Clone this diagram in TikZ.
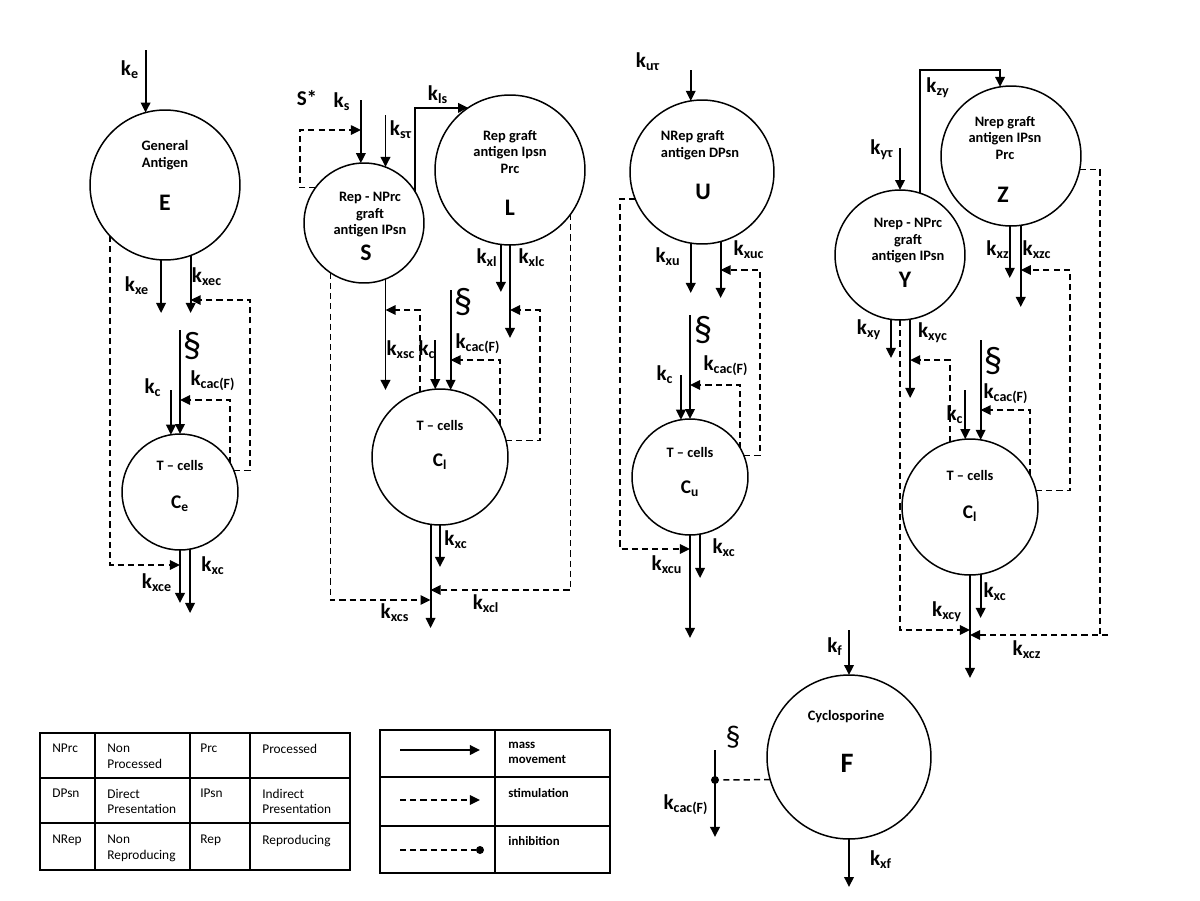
\documentclass[tikz,border=0pt]{standalone}
\usepackage{fontspec}
\setmainfont{Carlito}
\usetikzlibrary{arrows.meta}
\newcommand\kay[1]{k\textsubscript{#1}}
\begin{document}
\begin{tikzpicture}[x=0.02cm,y=-0.02cm,
 mass/.style={line width=1.1pt,-{Triangle[length=5.7pt,width=5.4pt]}},
 stim/.style={line width=0.85pt,dash pattern=on 3.5pt off 2.3pt,-{Triangle[length=5.7pt,width=5.4pt]}},
 dline/.style={line width=0.85pt,dash pattern=on 3.5pt off 2.3pt},
 circ/.style={circle,draw,line width=0.85pt,inner sep=0pt,outer sep=0pt,minimum size=#1},
 lab/.style={font=\fontsize{12}{14}\selectfont\bfseries,inner sep=0pt},
 ctext/.style={font=\fontsize{8.2}{9.4}\selectfont\bfseries,align=center,inner sep=0pt},
 cletter/.style={font=\fontsize{13.5}{15}\selectfont\bfseries,inner sep=0pt},
 csub/.style={font=\fontsize{11}{13}\selectfont\bfseries,inner sep=0pt},
 sect/.style={font=\fontsize{21}{21}\selectfont,inner sep=0pt},
 ttext/.style={font=\fontsize{7.6}{8.6}\selectfont,align=left,anchor=north west,inner sep=0pt},
 legtext/.style={font=\fontsize{7.3}{8.6}\selectfont\bfseries,align=left,anchor=north west,inner sep=0pt},
 gridline/.style={line width=1.1pt},
 blackdot/.style={circle,fill,inner sep=0pt,minimum size=0.16cm}]
\useasboundingbox (0,0) rectangle (1200,900);

% ===== E group =====
\node[circ=3cm] (E) at (165,185) {};
\node[ctext] (Et) at (165,155) {General\\Antigen};
\node[cletter] (El) at (165,203) {E};
\node[circ=2.32cm] (Ce) at (180,492) {};
\node[ctext] (Cet) at (180,465) {T – cells};
\node[csub] (Cel) at (180,504) {C\textsubscript{e}};
\draw[mass] (E.105.5 |- 0,50) -- (E.105.5);
\draw[mass] (E.-93.8) -- (E.-93.8 |- 0,313);
\draw[mass] (E.-70.5) -- (E.-70.5 |- 0,313);
\draw[stim] (Ce.22.3) -| (250,300) -- (E.-70.5 |- 0,300);
\draw[mass] (Ce.north |- 0,330) -- (Ce.north);
\draw[mass] (Ce.99.9 |- 0,390) -- (Ce.99.9);
\draw[stim] (Ce.30.5) |- (Ce.north |- 0,400);
\draw[stim] (E.-137.2) |- (Ce.south |- 0,565);
\draw[mass] (Ce.south) -- (Ce.south |- 0,603);
\draw[mass] (Ce.-80.1) -- (Ce.-80.1 |- 0,613);
\node[lab] (lE1) at (130,70) {\kay{e}};
\node[lab] (lE2) at (137,286) {\kay{xe}};
\node[lab] (lE3) at (207,277) {\kay{xec}};
\node[sect] (lE4) at (192,346) {§};
\node[lab] (lE5) at (213,381) {\kay{cac(F)}};
\node[lab] (lE6) at (153,388) {\kay{c}};
\node[lab] (lE7) at (157,583) {\kay{xce}};
\node[lab] (lE8) at (213,566) {\kay{xc}};

% ===== S / L group =====
\node[circ=2.4cm] (S) at (364,223) {};
\node[ctext] (St) at (370,215) {Rep - NPrc\\graft\\antigen IPsn};
\node[cletter] (Sl) at (366,253) {S};
\node[circ=3cm] (L) at (510,170) {};
\node[ctext] (Lt) at (510,152) {Rep graft\\antigen Ipsn\\Prc};
\node[cletter] (Ll) at (510,208) {L};
\node[circ=2.72cm] (Cl) at (440,457) {};
\node[ctext] (Clt) at (440,425) {T – cells};
\node[csub] (Cll) at (440,462) {C\textsubscript{l}};
\draw[mass] (S.93.8 |- 0,100) -- (S.93.8);
\draw[mass] (S.69.5 |- 0,115) -- (S.69.5);
\draw[stim] (S.144.3) -| (300,130) -- (S.93.8 |- 0,130);
\draw[mass] (S.31.8) |- (L.124.2);
\draw[mass] (L.-97.7) -- (L.-97.7 |- 0,292);
\draw[mass] (L.south) -- (L.south |- 0,338);
\draw[stim] (Cl.14.5) -| (540,310) -- (L.south |- 0,310);
\draw[mass] (S.-69.5) -- (S.-69.5 |- 0,390);
\draw[stim] (Cl.107.1) |- (S.-69.5 |- 0,310);
\draw[mass] (Cl.94.2 |- 0,340) -- (Cl.94.2);
\draw[mass] (Cl.81.5 |- 0,290) -- (Cl.81.5);
\draw[stim] (Cl.28.1) |- (Cl.81.5 |- 0,360);
\draw[mass] (Cl.-98.5) -- (Cl.-98.5 |- 0,628);
\draw[mass] (Cl.south) -- (Cl.south |- 0,567);
\draw[stim] (S.-124.5) |- (Cl.-98.5 |- 0,600);
\draw[stim] (L.-36.9) |- (Cl.-98.5 |- 0,590);
\node[lab] (lS1) at (307,98) {S*};
\node[lab] (lS2) at (342,102) {\kay{s}};
\node[lab] (lS3) at (401,130) {\kay{sτ}};
\node[lab] (lS4) at (438,95) {\kay{ls}};
\node[lab] (lS5) at (487,258) {\kay{xl}};
\node[lab] (lS6) at (532,258) {\kay{xlc}};
\node[sect] (lS7) at (463,302) {§};
\node[lab] (lS8) at (401,350) {\kay{xsc}};
\node[lab] (lS9) at (427,350) {\kay{c}};
\node[lab] (lS10) at (478,344) {\kay{cac(F)}};
\node[lab] (lS11) at (456,540) {\kay{xc}};
\node[lab] (lS12) at (395,613) {\kay{xcs}};
\node[lab] (lS13) at (486,604) {\kay{xcl}};

% ===== U group =====
\node[circ=2.88cm] (U) at (702,172) {};
\node[ctext,align=left] (Ut) at (700,145) {NRep graft\\antigen DPsn};
\node[cletter] (Ul) at (703,192) {U};
\node[circ=2.32cm] (Cu) at (690,477) {};
\node[ctext] (Cut) at (690,452) {T – cells};
\node[csub] (Cul) at (690,489) {C\textsubscript{u}};
\draw[mass] (U.99.6 |- 0,70) -- (U.99.6);
\draw[stim] (U.202.9) -| (620,549) -- (Cu.south |- 0,549);
\draw[mass] (U.-99.6) -- (U.-99.6 |- 0,293);
\draw[mass] (U.-75.5) -- (U.-75.5 |- 0,298);
\draw[stim] (Cu.22.3) -| (760,270) -- (U.-75.5 |- 0,270);
\draw[mass] (Cu.north |- 0,315) -- (Cu.north);
\draw[mass] (Cu.99.9 |- 0,375) -- (Cu.99.9);
\draw[stim] (Cu.30.5) |- (Cu.north |- 0,385);
\draw[mass] (Cu.south) -- (Cu.south |- 0,638);
\draw[mass] (Cu.-80.1) -- (Cu.-80.1 |- 0,578);
\node[lab] (lU1) at (648,62) {\kay{uτ}};
\node[lab] (lU2) at (668,257) {\kay{xu}};
\node[lab] (lU3) at (749,250) {\kay{xuc}};
\node[sect] (lU4) at (703,330) {§};
\node[lab] (lU5) at (726,366) {\kay{cac(F)}};
\node[lab] (lU6) at (665,375) {\kay{c}};
\node[lab] (lU7) at (667,565) {\kay{xcu}};
\node[lab] (lU8) at (724,548) {\kay{xc}};

% ===== Y / Z group =====
\node[circ=2.6cm] (Y) at (900,255) {};
\node[ctext] (Yt) at (908,241) {Nrep - NPrc\\graft\\antigen IPsn};
\node[cletter] (Yl) at (905,280) {Y};
\node[circ=2.8cm] (Z) at (1011,156) {};
\node[ctext] (Zt) at (1005,138) {Nrep graft\\antigen IPsn\\Prc};
\node[cletter] (Zl) at (1003,195) {Z};
\node[circ=2.72cm] (Cy) at (970,507) {};
\node[ctext] (Cyt) at (970,475) {T – cells};
\node[csub] (Cyl) at (970,514) {C\textsubscript{l}};
\draw[mass] (Y.north |- 0,148) -- (Y.north);
\draw[mass] (Y.72.1) |- (Z.99 |- 0,70) -- (Z.99);
\draw[mass] (Z.-91) -- (Z.-91 |- 0,278);
\draw[mass] (Z.-82.6) -- (Z.-82.6 |- 0,307);
\draw[stim] (Cy.14.5) -| (1070,270) -- (Z.-82.6 |- 0,270);
\draw[dline] (Z.-11.5) -| (1100,635);
\draw[stim] (1108,635) -- (Cy.south |- 0,635);
\draw[mass] (Y.-98.8) -- (Y.-98.8 |- 0,358);
\draw[stim] (Y.south) |- (Cy.south |- 0,630);
\draw[mass] (Y.-81.2) -- (Y.-81.2 |- 0,398);
\draw[stim] (Cy.107.1) |- (Y.-81.2 |- 0,360);
\draw[mass] (Cy.94.2 |- 0,390) -- (Cy.94.2);
\draw[mass] (Cy.81.5 |- 0,340) -- (Cy.81.5);
\draw[stim] (Cy.28.1) |- (Cy.81.5 |- 0,410);
\draw[mass] (Cy.south) -- (Cy.south |- 0,678);
\draw[mass] (Cy.-81.5) -- (Cy.-81.5 |- 0,618);
\node[lab] (lY1) at (938,88) {\kay{zy}};
\node[lab] (lY2) at (882,150) {\kay{yτ}};
\node[lab] (lY3) at (998,250) {\kay{xz}};
\node[lab] (lY4) at (1037,250) {\kay{xzc}};
\node[lab] (lY5) at (869,330) {\kay{xy}};
\node[lab] (lY6) at (933,333) {\kay{xyc}};
\node[sect] (lY7) at (993,361) {§};
\node[lab] (lY8) at (1006,394) {\kay{cac(F)}};
\node[lab] (lY9) at (955,415) {\kay{c}};
\node[lab] (lY10) at (995,592) {\kay{xc}};
\node[lab] (lY11) at (947,612) {\kay{xcy}};
\node[lab] (lY12) at (1027,650) {\kay{xcz}};

% ===== F group =====
\node[circ=3.28cm] (F) at (849,757) {};
\node[ctext] (Ft) at (846,717) {Cyclosporine};
\node[font=\fontsize{16}{18}\selectfont\bfseries,inner sep=0pt] (Fl) at (847,763) {F};
\draw[mass] (F.north |- 0,630) -- (F.north);
\draw[mass] (F.south) -- (F.south |- 0,887);
\coordinate (inhTop) at (715,750);
\coordinate (inhBot) at (715,837);
\node[blackdot] (inh) at (715,780) {};
\draw[mass] (inhTop) -- (inhBot);
\draw[dline] (F.196.3) -- (inh);
\node[lab] (lF1) at (835,647) {\kay{f}};
\node[lab] (lF2) at (881,860) {\kay{xf}};
\node[font=\fontsize{17}{17}\selectfont,inner sep=0pt] (lF3) at (733,737) {§};
\node[lab] (lF4) at (686,805) {\kay{cac(F)}};

% ===== Table of abbreviations =====
\draw[gridline] (40,733) rectangle (350,870);
\draw[gridline] (95,733) -- (95,870);
\draw[gridline] (190,733) -- (190,870);
\draw[gridline] (250,733) -- (250,870);
\draw[gridline] (40,778) -- (350,778);
\draw[gridline] (40,823) -- (350,823);
\node[ttext] (t11) at (52,744) {NPrc};
\node[ttext] (t12) at (107,744) {Non\\Processed};
\node[ttext] (t13) at (200,744) {Prc};
\node[ttext] (t14) at (262,744) {Processed};
\node[ttext] (t21) at (52,789) {DPsn};
\node[ttext] (t22) at (107,789) {Direct\\Presentation};
\node[ttext] (t23) at (200,789) {IPsn};
\node[ttext] (t24) at (262,789) {Indirect\\Presentation};
\node[ttext] (t31) at (52,835) {NRep};
\node[ttext] (t32) at (107,835) {Non\\Reproducing};
\node[ttext] (t33) at (200,835) {Rep};
\node[ttext] (t34) at (262,835) {Reproducing};

% ===== Legend =====
\draw[gridline] (380,730) rectangle (610,873);
\draw[gridline] (495,730) -- (495,873);
\draw[gridline] (380,777) -- (610,777);
\draw[gridline] (380,826) -- (610,826);
\coordinate (g1a) at (400,750); \coordinate (g1b) at (480,750);
\coordinate (g2a) at (400,800); \coordinate (g2b) at (480,800);
\coordinate (g3a) at (400,850);
\node[blackdot] (g3b) at (480,850) {};
\draw[mass] (g1a) -- (g1b);
\draw[stim] (g2a) -- (g2b);
\draw[dline] (g3a) -- (g3b);
\node[legtext] (m1) at (508,742) {mass\\movement};
\node[legtext] (m2) at (508,788) {stimulation};
\node[legtext] (m3) at (508,836) {inhibition};
\end{tikzpicture}
\end{document}
